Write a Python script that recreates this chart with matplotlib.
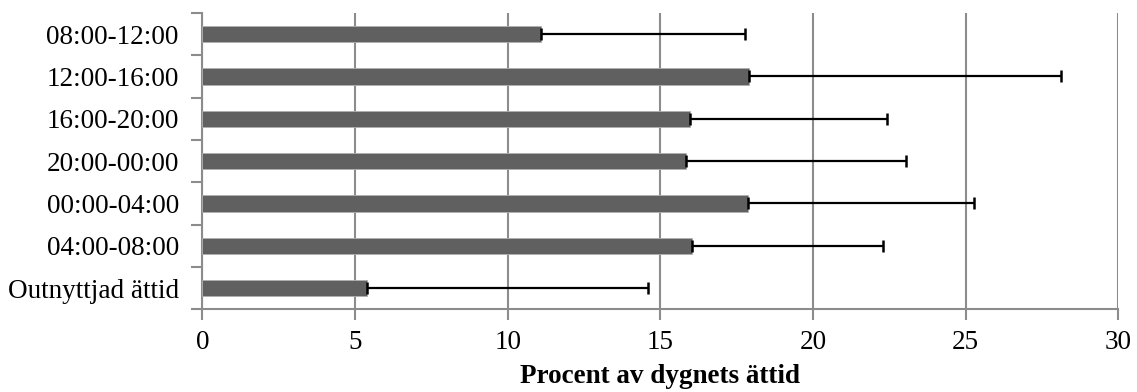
import matplotlib
matplotlib.use("Agg")
import matplotlib.pyplot as plt
import numpy as np

categories = ["08:00-12:00", "12:00-16:00", "16:00-20:00", "20:00-00:00",
              "00:00-04:00", "04:00-08:00", "Outnyttjad ättid"]
values = [11.10, 17.90, 15.97, 15.84, 17.87, 16.03, 5.40]
err_upper = [6.67, 10.21, 6.45, 7.22, 7.40, 6.27, 9.21]
xticks = [0, 5, 10, 15, 20, 25, 30]
xlabel = "Procent av dygnets ättid"

plt.rcParams['font.family'] = ['Liberation Serif', 'DejaVu Serif']

fig = plt.figure(figsize=(11.37, 3.92), dpi=100)
ax = fig.add_axes([0.178, 0.211, 0.9836 - 0.178, 0.967 - 0.211])

y = np.arange(len(categories))
ax.barh(y, values, height=0.39, color='#606060', edgecolor='#b0b0b0',
        linewidth=0.6, zorder=3)
ax.errorbar(values, y, xerr=[np.zeros(len(values)), err_upper], fmt='none',
            ecolor='black', elinewidth=1.6, capsize=4.3, capthick=1.8, zorder=4)

ax.set_xlim(0, 30)
ax.set_ylim(len(categories) - 0.5, -0.5)
ax.set_xticks(xticks)
ax.set_xticklabels([str(t) for t in xticks])
ax.set_yticks(y)
ax.set_yticklabels(categories)
ax.set_yticks(np.arange(-0.5, len(categories)), minor=True)

ax.grid(axis='x', color='#8c8c8c', linewidth=1.5, zorder=0)
for s in ['top', 'right']:
    ax.spines[s].set_visible(False)
for s in ['left', 'bottom']:
    ax.spines[s].set_color('#8c8c8c')
    ax.spines[s].set_linewidth(1.5)

ax.tick_params(axis='y', which='major', length=0, pad=17, labelsize=19.5)
ax.tick_params(axis='y', which='minor', length=8, width=1.5, color='#8c8c8c', direction='out')
ax.tick_params(axis='x', which='major', length=8, width=1.5, color='#8c8c8c',
               direction='out', pad=7, labelsize=19.5)

ax.set_xlabel(xlabel, fontsize=19.5, fontweight='bold', labelpad=6.5)

fig.savefig("out.png", dpi=100)
